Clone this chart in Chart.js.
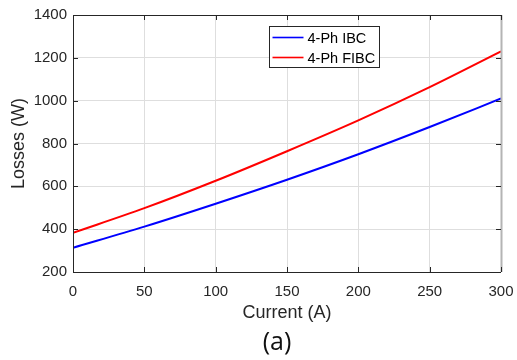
<!DOCTYPE html>
<html>
<head>
<meta charset="utf-8">
<script src="https://cdn.jsdelivr.net/npm/chart.js@4"></script>
<style>
  html, body { margin: 0; padding: 0; background: #fff; }
  #wrap { width: 517px; height: 360px; }
</style>
</head>
<body>
<div id="wrap"><canvas id="lossChart" width="517" height="360"></canvas></div>
<script>
// values
const currents = [0, 50, 100, 150, 200, 250, 300];
const ibcLosses = [313, 412, 519, 631, 750, 877, 1010];
const fibcLosses = [383, 498, 626, 764, 908, 1063, 1230];
const xTicks = [0, 50, 100, 150, 200, 250, 300];
const yTicks = [200, 400, 600, 800, 1000, 1200, 1400];
const seriesNames = ['4-Ph IBC', '4-Ph FIBC'];
const seriesColors = ['#0000ff', '#ff0000'];

const axisColor = '#262626';
const labelFont = 'Liberation Sans, Arial, sans-serif';

function toPoints(xs, ys) {
    return xs.map((x, i) => ({ x: x, y: ys[i] }));
}

// matlab style box: inward ticks on all sides + legend box inside the axes
const boxPlugin = {
    id: 'matlabBox',
    afterDatasetsDraw(chart) {
        const ctx = chart.ctx;
        const a = chart.chartArea;
        const xs = chart.scales.x, ys = chart.scales.y;
        const tl = 5;
        ctx.save();
        // right edge is grey and a bit heavier in the original
        ctx.strokeStyle = '#b4b4b4';
        ctx.lineWidth = 2;
        ctx.beginPath();
        ctx.moveTo(a.right + 0.5, a.top);
        ctx.lineTo(a.right + 0.5, a.bottom);
        ctx.stroke();

        ctx.strokeStyle = axisColor;
        ctx.lineWidth = 1;
        ctx.beginPath();
        ctx.moveTo(a.left + 0.5, a.top + 0.5);
        ctx.lineTo(a.right, a.top + 0.5);
        ctx.moveTo(a.left + 0.5, a.top);
        ctx.lineTo(a.left + 0.5, a.bottom + 0.5);
        ctx.lineTo(a.right, a.bottom + 0.5);
        xTicks.forEach(v => {
            const px = Math.round(xs.getPixelForValue(v)) + 0.5;
            ctx.moveTo(px, a.bottom);
            ctx.lineTo(px, a.bottom - tl);
            ctx.moveTo(px, a.top);
            ctx.lineTo(px, a.top + tl);
        });
        yTicks.forEach(v => {
            const py = Math.round(ys.getPixelForValue(v)) + 0.5;
            ctx.moveTo(a.left, py);
            ctx.lineTo(a.left + tl, py);
            ctx.moveTo(a.right, py);
            ctx.lineTo(a.right - tl, py);
        });
        ctx.stroke();

        // legend
        const bx = 269.5, by = 26.5, bw = 110, bh = 41;
        ctx.fillStyle = '#ffffff';
        ctx.fillRect(bx, by, bw, bh);
        ctx.strokeStyle = axisColor;
        ctx.strokeRect(bx, by, bw, bh);
        ctx.font = '14.5px ' + labelFont;
        ctx.textBaseline = 'middle';
        seriesNames.forEach((name, i) => {
            const ly = by + 11 + i * 20;
            ctx.strokeStyle = seriesColors[i];
            ctx.lineWidth = 1.6;
            ctx.beginPath();
            ctx.moveTo(bx + 3, ly);
            ctx.lineTo(bx + 34, ly);
            ctx.stroke();
            ctx.fillStyle = '#000000';
            ctx.fillText(name, bx + 38, ly + 1);
        });

        // sub-figure caption
        ctx.font = '25px "Open Sans", sans-serif';
        ctx.fillStyle = '#111111';
        ctx.textAlign = 'center';
        ctx.textBaseline = 'middle';
        ctx.fillText('(a)', 277, 343);
        ctx.restore();
    }
};

const lossChart = new Chart(document.getElementById('lossChart'), {
    type: 'line',
    data: {
        datasets: [
            {
                label: seriesNames[0],
                data: toPoints(currents, ibcLosses),
                borderColor: seriesColors[0],
                borderWidth: 2,
                pointRadius: 0,
                tension: 0.4,
                cubicInterpolationMode: 'monotone'
            },
            {
                label: seriesNames[1],
                data: toPoints(currents, fibcLosses),
                borderColor: seriesColors[1],
                borderWidth: 2,
                pointRadius: 0,
                tension: 0.4,
                cubicInterpolationMode: 'monotone'
            }
        ]
    },
    options: {
        responsive: false,
        animation: false,
        layout: { padding: { left: 0, top: 15, right: 16, bottom: 0 } },
        plugins: {
            legend: { display: false },
            tooltip: { enabled: false }
        },
        scales: {
            x: {
                type: 'linear',
                min: 0,
                max: 300,
                afterFit: s => { s.height = 88; s.paddingLeft = 0; s.paddingRight = 0; },
                afterBuildTicks: s => { s.ticks = xTicks.map(v => ({ value: v })); },
                grid: { color: '#dedede', drawTicks: false },
                border: { display: false },
                ticks: {
                    padding: 11,
                    color: axisColor,
                    font: { family: labelFont, size: 15 },
                    maxRotation: 0,
                    callback: v => String(v)
                },
                title: {
                    display: true,
                    text: 'Current (A)',
                    color: axisColor,
                    font: { family: labelFont, size: 18 },
                    padding: { top: 0, bottom: 36 }
                }
            },
            y: {
                min: 200,
                max: 1400,
                afterFit: s => { s.width = 73; s.paddingTop = 0; s.paddingBottom = 0; },
                afterBuildTicks: s => { s.ticks = yTicks.map(v => ({ value: v })); },
                grid: { color: '#dedede', drawTicks: false },
                border: { display: false },
                ticks: {
                    padding: 6,
                    color: axisColor,
                    font: { family: labelFont, size: 15 },
                    callback: v => String(v)
                },
                title: {
                    display: true,
                    text: 'Losses (W)',
                    color: axisColor,
                    font: { family: labelFont, size: 18 },
                    padding: { top: 8, bottom: 0 }
                }
            }
        }
    },
    plugins: [boxPlugin]
});
</script>
</body>
</html>
